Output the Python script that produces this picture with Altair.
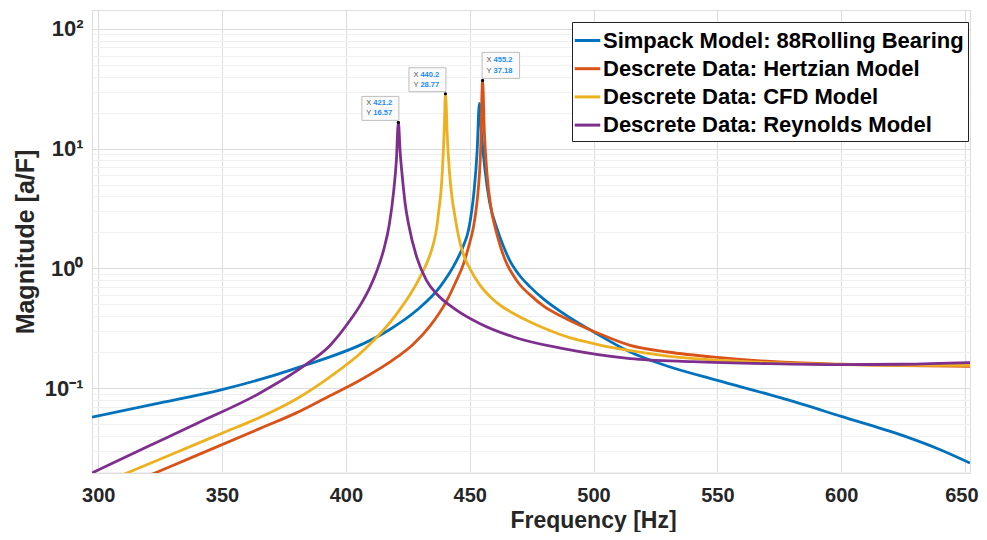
import altair as alt
import pandas as pd

# ---------------- data ----------------
series_names = [
    "Simpack Model: 88Rolling Bearing",
    "Descrete Data: Hertzian Model",
    "Descrete Data: CFD Model",
    "Descrete Data: Reynolds Model",
]
series_colors = ["#0072BD", "#D95319", "#EDB120", "#7E2F8E"]

simpack_f = [297.5, 325, 350, 365.4, 383.5, 393.6, 407.1, 417.9, 428.6, 438, 444.8, 447.5, 449.5, 450.8,
             451.8, 453.0, 453.9, 454.8, 456.2, 458, 461, 463.5, 466.3, 470, 474.4, 480, 487.8, 501.3,
             514.8, 530, 550, 575.4, 600, 625, 640, 652]
simpack_v = [0.057, 0.075, 0.097, 0.118, 0.155, 0.182, 0.235, 0.31, 0.446, 0.70, 1.17, 1.55, 2.08, 3.0,
             4.5, 9.5, 23.9, 13, 6.6, 3.6, 2.15, 1.55, 1.15, 0.88, 0.70, 0.55, 0.42, 0.284,
             0.20, 0.152, 0.116, 0.083, 0.058, 0.040, 0.0305, 0.0236]

hertz_f = [300, 322.9, 340, 365.4, 380, 393, 405.7, 420.6, 427, 434, 440.8, 444, 447.5, 449.5, 451.5,
           452.5, 453.3, 454.4, 455.2, 455.9, 457, 458.5, 460.5, 462.5, 465, 467.5, 470, 474.4, 480,
           487.8, 501.3, 514.8, 530, 550, 575, 600, 625, 652]
hertz_v = [0.0123, 0.0195, 0.0275, 0.046, 0.062, 0.085, 0.116, 0.181, 0.23, 0.33, 0.54, 0.74, 1.09, 1.5, 2.2,
           3.0, 4.2, 9.5, 37.18, 14, 6.1, 3.3, 2.1, 1.5, 1.09, 0.88, 0.74, 0.60, 0.48,
           0.39, 0.29, 0.227, 0.20, 0.18, 0.165, 0.158, 0.154, 0.152]

cfd_f = [300, 311.6, 330, 350, 365.4, 380, 393.6, 407.1, 420.6, 430, 434, 435.5, 436.7, 437.5, 438.4,
         439.0, 439.4, 439.8, 440.2, 441.0, 441.8, 442.8, 444.0, 445.5, 447.5, 450, 454.2, 459, 463,
         467.7, 474, 481.1, 490, 501.3, 514.8, 530, 550, 575, 600, 625, 652]
cfd_v = [0.0155, 0.0195, 0.0281, 0.0419, 0.057, 0.081, 0.124, 0.206, 0.418, 0.85, 1.3, 1.65, 2.2, 3.0, 4.4,
         6.7, 10, 16, 28.77, 12, 6.5, 4.0, 2.75, 1.85, 1.3, 1.0, 0.72, 0.56, 0.48,
         0.42, 0.36, 0.31, 0.265, 0.232, 0.205, 0.185, 0.171, 0.162, 0.157, 0.155, 0.155]

reyn_f = [297.5, 320, 340, 365, 383.5, 393.6, 401.7, 406, 409.8, 412.5, 415.2, 417.5, 419.3, 420.4, 421.2,
          421.9, 422.8, 424, 425.3, 428.6, 432.6, 436.7, 444.8, 454.2, 467.7, 487.8, 514.8, 540, 570,
          600, 625, 652]
reyn_v = [0.0195, 0.0324, 0.0508, 0.09, 0.155, 0.227, 0.368, 0.50, 0.70, 0.95, 1.41, 2.3, 4.4, 8.0, 16.57,
          9.5, 5.8, 3.4, 2.35, 1.24, 0.79, 0.61, 0.446, 0.345, 0.267, 0.213, 0.176, 0.166, 0.16,
          0.157, 0.158, 0.163]

# data tips (peak read-outs shown on the chart)
tip_series = ["Descrete Data: Reynolds Model", "Descrete Data: CFD Model", "Descrete Data: Hertzian Model"]
tip_f = [421.2, 440.2, 455.2]
tip_v = [16.57, 28.77, 37.18]
tip_side = ["left", "left", "right"]

x_ticks = [300, 350, 400, 450, 500, 550, 600, 650]
y_major = [0.1, 1, 10, 100]
y_minor = [0.02, 0.03, 0.04, 0.05, 0.06, 0.07, 0.08, 0.09,
           0.2, 0.3, 0.4, 0.5, 0.6, 0.7, 0.8, 0.9,
           2, 3, 4, 5, 6, 7, 8, 9,
           20, 30, 40, 50, 60, 70, 80, 90]

# ---------------- build tables ----------------
rows = []
for name, fs, vs in zip(series_names, [simpack_f, hertz_f, cfd_f, reyn_f],
                        [simpack_v, hertz_v, cfd_v, reyn_v]):
    for i, (f, v) in enumerate(zip(fs, vs)):
        rows.append({"series": name, "f": f, "v": v, "order": i})
df = pd.DataFrame(rows)

tips = pd.DataFrame({
    "series": tip_series, "f": tip_f, "v": tip_v, "side": tip_side,
    "xl": ["X"] * 3, "yl": ["Y"] * 3,
    "xs": [f"{f:.1f}" for f in tip_f], "ys": [f"{v:.2f}" for v in tip_v],
})

FONT = "Liberation Sans"
XDOM = [297.5, 652]
YDOM = [0.0195, 144]

xscale = alt.Scale(domain=XDOM, nice=False, zero=False)
yscale = alt.Scale(type="log", domain=YDOM, nice=False)

label_expr = ("datum.value == 100 ? '10²' : datum.value == 10 ? '10¹' : "
              "datum.value == 1 ? '10⁰' : datum.value == 0.1 ? '10⁻¹' : ''")
major_test = "datum.value == 100 || datum.value == 10 || datum.value == 1 || datum.value == 0.1"

xaxis = alt.Axis(values=x_ticks, grid=True, gridColor="#dedede", ticks=False, domain=False,
                 labelFontSize=20, labelFontWeight="bold", labelFont=FONT, labelColor="#262626",
                 labelPadding=12, labelFlush=5.5, labelFlushOffset=13,
                 title="Frequency [Hz]", titleFont=FONT, titleFontSize=23,
                 titleFontWeight="bold", titleColor="#262626",
                 titleX=501, titleY=36, titleAlign="center", titleBaseline="top")
yaxis = alt.Axis(values=y_major + y_minor, labelExpr=label_expr, labelOverlap=False,
                 grid=True,
                 gridColor={"condition": {"test": major_test, "value": "#dcdcdc"}, "value": "#f0f0f0"},
                 ticks=False, domain=False,
                 labelFontSize=22, labelFontWeight="bold", labelFont=FONT, labelColor="#262626",
                 labelPadding=9, title="Magnitude [a/F]", titleFont=FONT, titleFontSize=25,
                 titleFontWeight="bold", titleColor="#262626", titlePadding=6)

color = alt.Color("series:N",
                  scale=alt.Scale(domain=series_names, range=series_colors),
                  sort=series_names,
                  legend=alt.Legend(title=None, orient="none", legendX=480, legendY=12,
                                    strokeColor="#222222", fillColor="white",
                                    padding=4, symbolType="stroke", symbolStrokeWidth=3,
                                    symbolSize=650, symbolOffset=-3,
                                    labelFontSize=22, labelFontWeight="bold",
                                    labelFont=FONT, labelColor="black", rowPadding=2.2,
                                    labelLimit=0, labelOffset=1))

lines = alt.Chart(df).mark_line(strokeWidth=2.8, interpolate="monotone", clip=True).encode(
    x=alt.X("f:Q", scale=xscale, axis=xaxis),
    y=alt.Y("v:Q", scale=yscale, axis=yaxis),
    color=color,
    order="order:Q",
)

base_tip = alt.Chart(tips)

dots = base_tip.mark_point(filled=True, color="black", size=10, opacity=1).encode(
    x="f:Q", y="v:Q")

box_left = base_tip.transform_filter("datum.side == 'left'").mark_rect(
    fill="#fafafa", stroke="#bdbdbd", strokeWidth=1,
    xOffset=-36.5, x2Offset=0.5, yOffset=-26, y2Offset=-2).encode(
    x="f:Q", x2="f:Q", y="v:Q", y2="v:Q")
box_right = base_tip.transform_filter("datum.side == 'right'").mark_rect(
    fill="#fafafa", stroke="#bdbdbd", strokeWidth=1,
    xOffset=-0.5, x2Offset=37, yOffset=-28, y2Offset=-2).encode(
    x="f:Q", x2="f:Q", y="v:Q", y2="v:Q")

def tip_text(side, dx, dy1, dy2):
    b = base_tip.transform_filter(f"datum.side == '{side}'")
    common = dict(align="left", baseline="middle", fontSize=7.5, font=FONT)
    return [
        b.mark_text(dx=dx, dy=dy1, color="#555555", **common).encode(x="f:Q", y="v:Q", text="xl:N"),
        b.mark_text(dx=dx + 7, dy=dy1, color="#1a8cff", fontWeight="bold", **common).encode(
            x="f:Q", y="v:Q", text="xs:N"),
        b.mark_text(dx=dx, dy=dy2, color="#555555", **common).encode(x="f:Q", y="v:Q", text="yl:N"),
        b.mark_text(dx=dx + 7, dy=dy2, color="#1a8cff", fontWeight="bold", **common).encode(
            x="f:Q", y="v:Q", text="ys:N"),
    ]

texts = tip_text("left", -32, -19, -9) + tip_text("right", 4, -20, -9)

chart = alt.layer(lines, dots, box_left, box_right, *texts).properties(
    width=878, height=463,
    padding={"left": 84, "top": 2, "right": 9, "bottom": 59},
    autosize=alt.AutoSizeParams(type="none"),
).configure_view(stroke="#9a9a9a", strokeWidth=1).configure_legend(
    strokeWidth=2
).configure(background="white")

chart.save("out.html", embed_options={"renderer": "svg", "actions": False})
